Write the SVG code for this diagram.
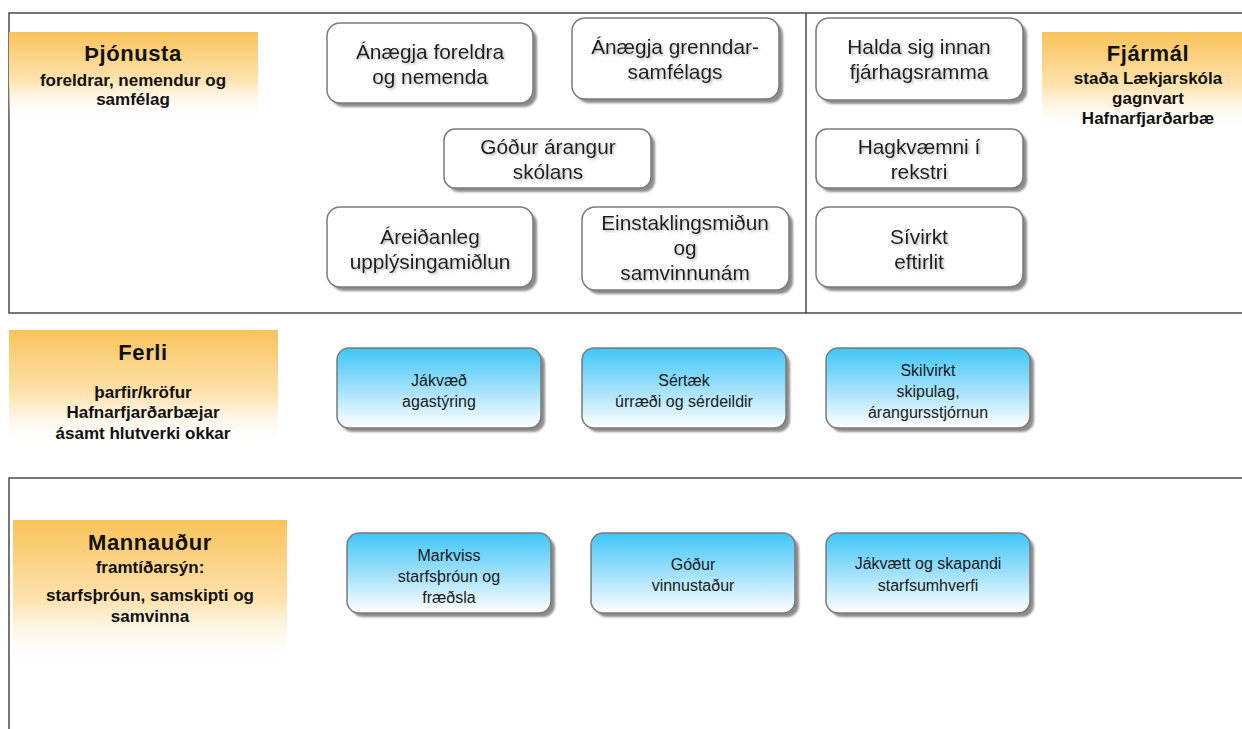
<svg xmlns="http://www.w3.org/2000/svg" width="1242" height="729" viewBox="0 0 1242 729">
<defs>
  <linearGradient id="org" x1="0" y1="0" x2="0" y2="1">
    <stop offset="0" stop-color="#f9c35a"/>
    <stop offset="0.55" stop-color="#fde3b0"/>
    <stop offset="1" stop-color="#ffffff" stop-opacity="0"/>
  </linearGradient>
  <linearGradient id="blu" x1="0" y1="0" x2="0" y2="1">
    <stop offset="0" stop-color="#3ec6f7"/>
    <stop offset="0.5" stop-color="#9fe0fb"/>
    <stop offset="1" stop-color="#ffffff"/>
  </linearGradient>
  <filter id="blur" x="-10%" y="-10%" width="120%" height="120%">
    <feGaussianBlur stdDeviation="1.2"/>
  </filter>
  <filter id="tsh" x="-10%" y="-20%" width="120%" height="140%">
    <feDropShadow dx="1.5" dy="1.5" stdDeviation="0.8" flood-color="#888" flood-opacity="0.6"/>
  </filter>
</defs>
<style>
  .frame{fill:none;stroke:#4a4a4a;stroke-width:1.5}
  .sh{fill:#8c8c8c;filter:url(#blur)}
  .wb{fill:#ffffff;stroke:#7a7a7a;stroke-width:1.5}
  .bb{fill:url(#blu);stroke:#7a7a7a;stroke-width:1.5}
  .lab{fill:url(#org)}
  .t{font-family:"Liberation Sans",Arial,sans-serif;font-size:20.8px;fill:#1a1a1a;text-anchor:middle;filter:url(#tsh)}
  .bt{font-family:"Liberation Sans",Arial,sans-serif;font-size:16px;fill:#1a1a1a;text-anchor:middle}
  .h{font-family:"Liberation Sans",Arial,sans-serif;font-size:22px;font-weight:bold;fill:#111;text-anchor:middle;letter-spacing:0.6px}
  .s{font-family:"Liberation Sans",Arial,sans-serif;font-size:17px;font-weight:bold;fill:#111;text-anchor:middle}
</style>
<rect width="1242" height="729" fill="#ffffff"/>

<g id="frames">
  <path class="frame" d="M1243,13 H9 V313 H1243"/>
  <path class="frame" d="M806,13 V313"/>
  <path class="frame" d="M1243,478 H9 V730"/>
</g>

<g id="label-thjonusta">
  <rect class="lab" x="9" y="32" width="249" height="88"/>
  <text class="h" x="133" y="61">Þjónusta</text>
  <text class="s" x="133" y="86">foreldrar, nemendur og</text>
  <text class="s" x="133" y="105">samfélag</text>
</g>

<g id="label-fjarmal">
  <rect class="lab" x="1042" y="32" width="200" height="100"/>
  <text class="h" x="1148" y="61">Fjármál</text>
  <text class="s" x="1148" y="84">staða Lækjarskóla</text>
  <text class="s" x="1148" y="104">gagnvart</text>
  <text class="s" x="1148" y="124">Hafnarfjarðarbæ</text>
</g>

<g id="label-ferli">
  <rect class="lab" x="9" y="330" width="269" height="118"/>
  <text class="h" x="143" y="360">Ferli</text>
  <text class="s" x="143" y="398">þarfir/kröfur</text>
  <text class="s" x="143" y="418">Hafnarfjarðarbæjar</text>
  <text class="s" x="143" y="439">ásamt hlutverki okkar</text>
</g>

<g id="label-mannaudur">
  <rect class="lab" x="13" y="520" width="274" height="148"/>
  <text class="h" x="150" y="550">Mannauður</text>
  <text class="s" x="150" y="573">framtíðarsýn:</text>
  <text class="s" x="150" y="601">starfsþróun, samskipti og</text>
  <text class="s" x="150" y="622">samvinna</text>
</g>

<g id="n-anaegja-foreldra">
  <rect class="sh" x="331" y="27" width="206" height="80" rx="13"/>
  <rect class="wb" x="327" y="23" width="206" height="80" rx="13"/>
  <text class="t" x="430" y="59">Ánægja foreldra</text>
  <text class="t" x="430" y="84">og nemenda</text>
</g>
<g id="n-anaegja-grenndar">
  <rect class="sh" x="576" y="22" width="207" height="81" rx="13"/>
  <rect class="wb" x="572" y="18" width="207" height="81" rx="13"/>
  <text class="t" x="675" y="54">Ánægja grenndar-</text>
  <text class="t" x="675" y="79">samfélags</text>
</g>
<g id="n-godur-arangur">
  <rect class="sh" x="448" y="133" width="207" height="59" rx="11"/>
  <rect class="wb" x="444" y="129" width="207" height="59" rx="11"/>
  <text class="t" x="548" y="154">Góður árangur</text>
  <text class="t" x="548" y="179">skólans</text>
</g>
<g id="n-areidanleg">
  <rect class="sh" x="331" y="211" width="206" height="80" rx="13"/>
  <rect class="wb" x="327" y="207" width="206" height="80" rx="13"/>
  <text class="t" x="430" y="244">Áreiðanleg</text>
  <text class="t" x="430" y="269">upplýsingamiðlun</text>
</g>
<g id="n-einstaklingsmidun">
  <rect class="sh" x="586" y="211" width="207" height="83" rx="13"/>
  <rect class="wb" x="582" y="207" width="207" height="83" rx="13"/>
  <text class="t" x="685" y="230">Einstaklingsmiðun</text>
  <text class="t" x="685" y="255">og</text>
  <text class="t" x="685" y="280">samvinnunám</text>
</g>
<g id="n-halda-sig">
  <rect class="sh" x="820" y="22" width="207" height="82" rx="13"/>
  <rect class="wb" x="816" y="18" width="207" height="82" rx="13"/>
  <text class="t" x="919" y="54">Halda sig innan</text>
  <text class="t" x="919" y="79">fjárhagsramma</text>
</g>
<g id="n-hagkvaemni">
  <rect class="sh" x="820" y="133" width="207" height="59" rx="11"/>
  <rect class="wb" x="816" y="129" width="207" height="59" rx="11"/>
  <text class="t" x="919" y="154">Hagkvæmni í</text>
  <text class="t" x="919" y="179">rekstri</text>
</g>
<g id="n-sivirkt">
  <rect class="sh" x="820" y="211" width="207" height="80" rx="13"/>
  <rect class="wb" x="816" y="207" width="207" height="80" rx="13"/>
  <text class="t" x="919" y="244">Sívirkt</text>
  <text class="t" x="919" y="269">eftirlit</text>
</g>

<g id="n-jakvaed">
  <rect class="sh" x="341" y="352" width="204" height="80" rx="12"/>
  <rect class="bb" x="337" y="348" width="204" height="80" rx="12"/>
  <text class="bt" x="439" y="386">Jákvæð</text>
  <text class="bt" x="439" y="407">agastýring</text>
</g>
<g id="n-sertaek">
  <rect class="sh" x="586" y="352" width="204" height="80" rx="12"/>
  <rect class="bb" x="582" y="348" width="204" height="80" rx="12"/>
  <text class="bt" x="684" y="386">Sértæk</text>
  <text class="bt" x="684" y="407">úrræði og sérdeildir</text>
</g>
<g id="n-skilvirkt">
  <rect class="sh" x="830" y="352" width="204" height="80" rx="12"/>
  <rect class="bb" x="826" y="348" width="204" height="80" rx="12"/>
  <text class="bt" x="928" y="376">Skilvirkt</text>
  <text class="bt" x="928" y="397">skipulag,</text>
  <text class="bt" x="928" y="418">árangursstjórnun</text>
</g>

<g id="n-markviss">
  <rect class="sh" x="351" y="537" width="204" height="80" rx="12"/>
  <rect class="bb" x="347" y="533" width="204" height="80" rx="12"/>
  <text class="bt" x="449" y="561">Markviss</text>
  <text class="bt" x="449" y="582">starfsþróun og</text>
  <text class="bt" x="449" y="603">fræðsla</text>
</g>
<g id="n-godur-vinnustadur">
  <rect class="sh" x="595" y="537" width="204" height="80" rx="12"/>
  <rect class="bb" x="591" y="533" width="204" height="80" rx="12"/>
  <text class="bt" x="693" y="570">Góður</text>
  <text class="bt" x="693" y="591">vinnustaður</text>
</g>
<g id="n-jakvaett">
  <rect class="sh" x="830" y="537" width="204" height="80" rx="12"/>
  <rect class="bb" x="826" y="533" width="204" height="80" rx="12"/>
  <text class="bt" x="928" y="569">Jákvætt og skapandi</text>
  <text class="bt" x="928" y="591">starfsumhverfi</text>
</g>

<g id="connectors"/>
</svg>
